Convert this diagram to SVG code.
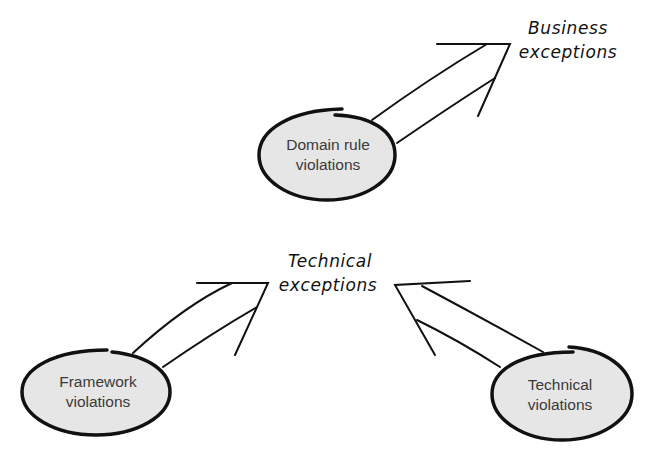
<svg xmlns="http://www.w3.org/2000/svg" width="657" height="467" viewBox="0 0 657 467">
<style>
.bg{fill:#ffffff}
.node path{fill:#e6e6e6;stroke:#111;stroke-width:3.5;stroke-linecap:round}
.lbl{font-family:"Liberation Sans",Arial,sans-serif;font-size:15.5px;fill:#3a3a3a;text-anchor:middle}
.hand{font-family:"DejaVu Sans",sans-serif;font-style:italic;font-size:17px;fill:#111;text-anchor:middle;letter-spacing:0.6px}
.arr{fill:none;stroke:#111;stroke-width:2;stroke-linecap:round;stroke-linejoin:miter}
</style>
<rect class="bg" x="0" y="0" width="657" height="467"/>
<g id="connectors">
  <g id="arrow-domain">
    <path class="arr" d="M437,44 L510,44 L478,116"/>
    <path class="arr" d="M372,120 Q430,78 487,44"/>
    <path class="arr" d="M397,143 Q448,108 495,78"/>
  </g>
  <g id="arrow-framework">
    <path class="arr" d="M197,283 L268,283 L235,355"/>
    <path class="arr" d="M133,353 Q185,305 232,283"/>
    <path class="arr" d="M163,367 Q212,333 257,307"/>
  </g>
  <g id="arrow-technical">
    <path class="arr" d="M470,281 L395,285 L435,355"/>
    <path class="arr" d="M543,352 Q482,318 422,286"/>
    <path class="arr" d="M500,367 Q458,340 417,320"/>
  </g>
</g>
<g id="business-exceptions">
  <text class="hand" x="568" y="34">Business</text>
  <text class="hand" x="568" y="58">exceptions</text>
</g>
<g id="technical-exceptions">
  <text class="hand" x="330" y="267">Technical</text>
  <text class="hand" x="328" y="291">exceptions</text>
</g>
<g id="domain-rule-violations" class="node">
  <path d="M335,115 C370,116 395,130 395,155 C395,180 365,200 327,200 C289,200 259,180 259,155 C259,130 290,110 342,109"/>
  <text class="lbl" x="328" y="150">Domain rule</text>
  <text class="lbl" x="328" y="170">violations</text>
</g>
<g id="framework-violations" class="node">
  <path d="M112,352 C150,356 170,372 170,392 C170,416 137,435 96,435 C55,435 22,416 22,392 C22,368 55,350 107,350"/>
  <text class="lbl" x="98" y="387">Framework</text>
  <text class="lbl" x="98" y="407">violations</text>
</g>
<g id="technical-violations" class="node">
  <path d="M569,347 C605,349 632,368 632,394 C632,419 601,440 562,440 C523,440 492,419 492,394 C492,370 520,352 573,352"/>
  <text class="lbl" x="560" y="390">Technical</text>
  <text class="lbl" x="560" y="410">violations</text>
</g>
</svg>
